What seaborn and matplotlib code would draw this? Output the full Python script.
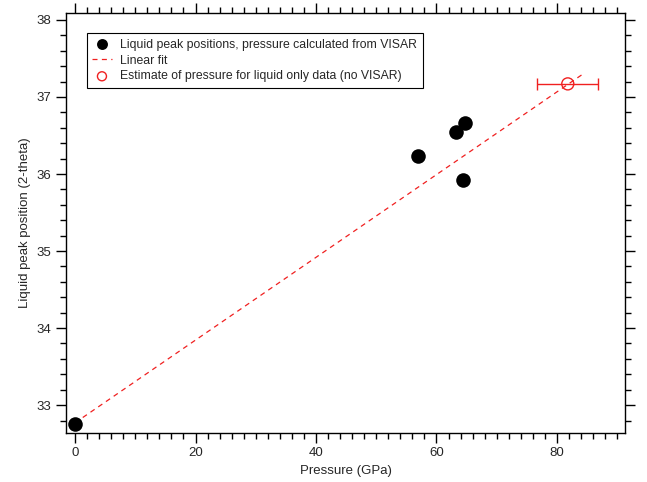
import matplotlib
matplotlib.use("Agg")
import matplotlib.pyplot as plt
from matplotlib.ticker import MultipleLocator
import seaborn as sns
import pandas as pd
import numpy as np

# Data
visar_pressure = [0.0, 57.0, 63.2, 64.7, 64.4]
visar_peak = [32.76, 36.23, 36.55, 36.66, 35.92]
est_pressure = [81.8]
est_peak = [37.17]
est_xerr = [5.1]
fit_intercept = 32.77
fit_slope = 0.0537
fit_x_range = [0.0, 84.5]

label_visar = "Liquid peak positions, pressure calculated from VISAR"
label_fit = "Linear fit"
label_est = "Estimate of pressure for liquid only data (no VISAR)"

sns.set_style("ticks")
plt.rcParams['font.family'] = ['Liberation Sans', 'DejaVu Sans']

fig = plt.figure(figsize=(6.47, 4.82), dpi=100)
ax = fig.add_axes([0.102, 0.102, 0.864, 0.871])

df_v = pd.DataFrame({"p": visar_pressure, "y": visar_peak})
fit_x = np.array(fit_x_range)
df_f = pd.DataFrame({"p": fit_x, "y": fit_intercept + fit_slope * fit_x})
df_e = pd.DataFrame({"p": est_pressure, "y": est_peak})

sns.scatterplot(data=df_v, x="p", y="y", ax=ax, s=110, color="black",
                edgecolor="black", linewidth=0, marker="o", label=label_visar, zorder=3)
sns.lineplot(data=df_f, x="p", y="y", ax=ax, color="#f02020", linewidth=0.9,
             dashes=False, label=label_fit, zorder=2)
ax.lines[-1].set_dashes((4, 3.5))
ax.errorbar(est_pressure, est_peak, xerr=est_xerr, fmt="none", ecolor="#f02020",
            elinewidth=1.0, capsize=4, capthick=1.0, zorder=3)
sns.scatterplot(data=df_e, x="p", y="y", ax=ax, s=75, facecolor="none",
                edgecolor="#f02020", linewidth=1.0, marker="o", label=label_est, zorder=4)

ax.set_xlim(-1.5, 91.3)
ax.set_ylim(32.64, 38.09)
ax.xaxis.set_major_locator(MultipleLocator(20))
ax.xaxis.set_minor_locator(MultipleLocator(2))
ax.yaxis.set_major_locator(MultipleLocator(1))
ax.yaxis.set_minor_locator(MultipleLocator(0.2))
ax.tick_params(which="both", direction="out", top=True, right=True,
               labeltop=False, labelright=False, color="black", width=1.0)
ax.tick_params(which="major", length=7, labelsize=9.5)
ax.tick_params(which="minor", length=4)
for s in ax.spines.values():
    s.set_visible(True)
    s.set_linewidth(1.0)
    s.set_color("black")

ax.set_xlabel("Pressure (GPa)", fontsize=9.5)
ax.set_ylabel("Liquid peak position (2-theta)", fontsize=9.5)

leg = ax.legend(loc="upper left", bbox_to_anchor=(0.037, 0.952), fontsize=8.8,
                frameon=True, fancybox=False, borderpad=0.45, handlelength=1.6,
                handletextpad=0.7, markerscale=0.75,
                labelspacing=0.32, borderaxespad=0)
leg.get_frame().set_edgecolor("black")
leg.get_frame().set_linewidth(0.8)
leg.get_frame().set_alpha(1)
for h in leg.get_lines():
    if h.get_label() == label_fit or h.get_linestyle() not in ("None", ""):
        h.set_dashes((4, 3.5))

fig.savefig("out.png", dpi=100)
